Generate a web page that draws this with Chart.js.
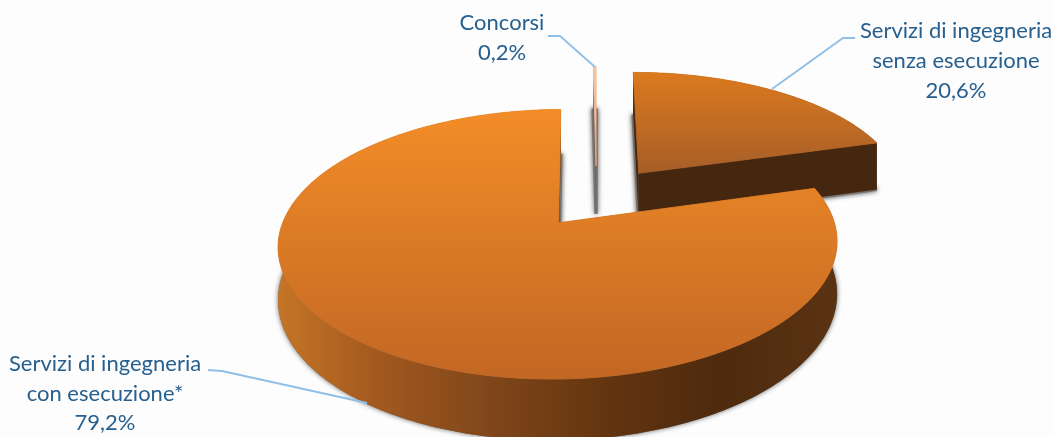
<!DOCTYPE html>
<html>
<head>
<meta charset="utf-8">
<title>Servizi di ingegneria</title>
<script src="https://cdn.jsdelivr.net/npm/chart.js@4"></script>
<style>
    html, body { margin: 0; padding: 0; background: #fdfdfe; overflow: hidden; }
    canvas { display: block; }
</style>
</head>
<body>
<canvas id="pieChart" width="1054" height="437"></canvas>
<script>
/* Exploded 3D pie: the pie controller works out the angles, the plugin projects them */

const categories = ['Servizi di ingegneria senza esecuzione', 'Servizi di ingegneria con esecuzione*', 'Concorsi'];
const shares = [20.6, 79.2, 0.2];
const labelLines = [
    ['Servizi di ingegneria', 'senza esecuzione'],
    ['Servizi di ingegneria', 'con esecuzione*'],
    ['Concorsi']
];

// how far each slice is pulled out, as a part of the radius
const explode = [0.27, 0.23, 0.28];
const topColors = [['#dc7a1e', '#a65e28'], ['#f38d28', '#c26724'], ['#f9c7a4', '#f4a877']];
const labelBoxes = [
    { x: 956, y: 38, gap: 30, line: [[855, 38], [843, 38], [772, 89]] },
    { x: 105, y: 371, gap: 29.5, line: [[208, 370], [222, 371], [367, 403]] },
    { x: 502, y: 30, gap: 30, line: [[548, 36], [560, 36], [595, 67]] }
];

// camera: screen origin of the pie centre, axis scales, perspective and thickness
const view = { x: 596.5, y: 199.2, a: 268, b: 124, p: 0.155, depth: 50 };

function project(u, v, h) {
    const w = 1 - view.p * v;
    return [view.x + view.a * u / w, view.y + view.b * v / w + h * view.depth / w];
}

function slicePoints(arc, index, h) {
    const { startAngle, endAngle } = arc.getProps(['startAngle', 'endAngle'], true);
    const mid = (startAngle + endAngle) / 2;
    const cu = Math.cos(mid) * explode[index];
    const cv = Math.sin(mid) * explode[index];
    const steps = Math.max(2, Math.ceil((endAngle - startAngle) * 60));
    const rim = [];
    for (let i = 0; i <= steps; i++) {
        const t = startAngle + (endAngle - startAngle) * i / steps;
        rim.push(project(cu + Math.cos(t), cv + Math.sin(t), h));
    }
    return { apex: project(cu, cv, h), rim };
}

function tracePoly(ctx, pts) {
    ctx.beginPath();
    pts.forEach((p, i) => (i ? ctx.lineTo(p[0], p[1]) : ctx.moveTo(p[0], p[1])));
    ctx.closePath();
}

function sideFill(ctx, index) {
    if (index === 2) return '#6e6660';
    if (index === 0) return '#45260e';
    const g = ctx.createLinearGradient(277, 0, 836, 0);
    g.addColorStop(0, '#c57526');
    g.addColorStop(0.18, '#a2591f');
    g.addColorStop(0.38, '#80461a');
    g.addColorStop(0.59, '#63350f');
    g.addColorStop(0.79, '#4e2a0e');
    g.addColorStop(1, '#5a3312');
    return g;
}

const pie3d = {
    id: 'pie3d',
    beforeDatasetsDraw(chart) {
        const ctx = chart.ctx;
        const arcs = chart.getDatasetMeta(0).data;

        // blurred floor shadow under every slice, straight edges get a stroke so they show
        ctx.save();
        ctx.shadowColor = 'rgba(70,70,70,0.85)';
        ctx.shadowBlur = 5;
        ctx.fillStyle = '#77726e';
        ctx.strokeStyle = '#77726e';
        ctx.lineWidth = 3.5;
        arcs.forEach((arc, i) => {
            const low = slicePoints(arc, i, 1);
            tracePoly(ctx, [low.apex, ...low.rim]);
            ctx.fill();
            ctx.beginPath();
            ctx.moveTo(low.rim[0][0], low.rim[0][1]);
            ctx.lineTo(low.apex[0], low.apex[1]);
            ctx.lineTo(low.rim[low.rim.length - 1][0], low.rim[low.rim.length - 1][1]);
            ctx.stroke();
        });
        ctx.restore();

        // back slices first, the big one goes over them
        [2, 0, 1].forEach(i => {
            const top = slicePoints(arcs[i], i, 0);
            const low = slicePoints(arcs[i], i, 1);
            const fill = sideFill(ctx, i);
            ctx.fillStyle = fill;
            tracePoly(ctx, [...top.rim, ...low.rim.slice().reverse()]);
            ctx.fill();
            tracePoly(ctx, [top.apex, top.rim[0], low.rim[0], low.apex]);
            ctx.fill();
            const last = top.rim.length - 1;
            tracePoly(ctx, [top.apex, top.rim[last], low.rim[last], low.apex]);
            ctx.fill();

            const pts = [top.apex, ...top.rim];
            const ys = pts.map(p => p[1]);
            const grad = ctx.createLinearGradient(0, Math.min(...ys), 0, Math.max(...ys));
            grad.addColorStop(0, topColors[i][0]);
            grad.addColorStop(1, topColors[i][1]);
            ctx.fillStyle = grad;
            ctx.strokeStyle = grad;
            ctx.lineWidth = 0.8;
            tracePoly(ctx, pts);
            ctx.fill();
            ctx.stroke();
        });
        return false;
    },
    afterDraw(chart) {
        const ctx = chart.ctx;
        ctx.save();
        ctx.strokeStyle = '#8fbfe8';
        ctx.lineWidth = 1.8;
        labelBoxes.forEach(box => {
            ctx.beginPath();
            box.line.forEach((p, i) => (i ? ctx.lineTo(p[0], p[1]) : ctx.moveTo(p[0], p[1])));
            ctx.stroke();
        });
        ctx.fillStyle = '#27608f';
        ctx.font = '22px Lato';
        ctx.textAlign = 'center';
        labelBoxes.forEach((box, i) => {
            const lines = [...labelLines[i], String(shares[i]).replace('.', ',') + '%'];
            lines.forEach((text, n) => ctx.fillText(text, box.x, box.y + n * box.gap));
        });
        ctx.restore();
    }
};

new Chart(document.getElementById('pieChart'), {
    type: 'pie',
    data: {
        labels: categories,
        datasets: [{ data: shares, backgroundColor: topColors.map(c => c[0]), borderWidth: 0 }]
    },
    options: {
        responsive: false,
        animation: false,
        plugins: { legend: { display: false }, tooltip: { enabled: false } }
    },
    plugins: [pie3d]
});
</script>
</body>
</html>
